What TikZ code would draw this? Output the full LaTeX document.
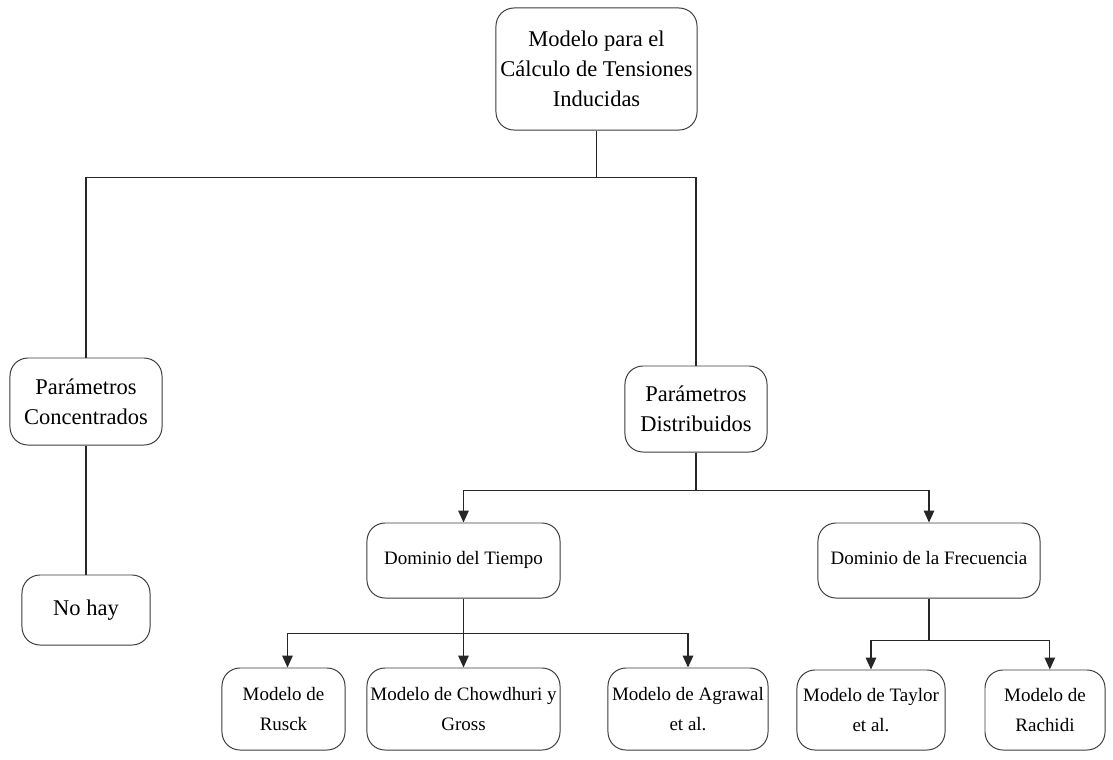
\documentclass[tikz,border=0pt]{standalone}
\usepackage{fontspec}
\setmainfont{Liberation Serif}
\usepackage{tikz}
\usetikzlibrary{arrows.meta, positioning, calc}
\definecolor{boxline}{RGB}{60, 60, 60}

\begin{document}
\begin{tikzpicture}[
  x=0.025cm, y=-0.025cm,
  box/.style={rectangle, rounded corners=0.45cm, draw=boxline, line width=0.7pt,
              align=center, inner sep=2pt},
  big/.style={font=\fontsize{16}{21.5}\selectfont},
  small/.style={font=\fontsize{13.5}{21.5}\selectfont},
  link/.style={line width=0.9pt, color=black!85},
  arrow/.style={link, -{Triangle[length=8.5pt, width=7.5pt]}},
]
\useasboundingbox (0,0) rectangle (1113,759);

% Root
\node[box, big, minimum width=5.025cm, minimum height=3.05cm] (root) at (596.5,69)
  {Modelo para el\\ C\'alculo de Tensiones\\ Inducidas};

% Level 1
\node[box, big, minimum width=3.8cm, minimum height=2.175cm] (conc) at (86,401.5)
  {Par\'ametros\\ Concentrados};
\node[box, big, minimum width=3.55cm, minimum height=2.15cm] (dist) at (696,409)
  {Par\'ametros\\ Distribuidos};

% Level 2
\node[box, big, minimum width=3.2cm, minimum height=1.75cm] (nohay) at (86,610)
  {No hay};
\node[box, small, minimum width=4.825cm, minimum height=1.875cm, text depth=0.15cm] (tiempo) at (463.5,560.5)
  {Dominio del Tiempo};
\node[box, small, minimum width=5.55cm, minimum height=1.875cm, text depth=0.15cm] (frec) at (929,560.5)
  {Dominio de la Frecuencia};

% Level 3
\node[box, small, minimum width=3.075cm, minimum height=2.05cm] (rusck) at (283.5,709)
  {Modelo de\\ Rusck};
\node[box, small, minimum width=4.825cm, minimum height=2.05cm] (chow) at (463.5,709)
  {Modelo de Chowdhuri y\\ Gross};
\node[box, small, minimum width=4.0cm, minimum height=2.05cm] (agra) at (688,709)
  {Modelo de Agrawal\\ et al.};
\node[box, small, minimum width=3.7cm, minimum height=2.0cm] (taylor) at (871,710)
  {Modelo de Taylor\\ et al.};
\node[box, small, minimum width=3.0cm, minimum height=2.0cm] (rach) at (1045,710)
  {Modelo de\\ Rachidi};

% Links from root
\draw[link] (root.south) -- ++(0,47) -| (conc.north);
\draw[link] (root.south) -- ++(0,47) -| (dist.north);
\draw[link] (conc.south) -- (nohay.north);

% Arrows to domains
\draw[arrow] (dist.south) -- ++(0,38) -| (tiempo.north);
\draw[arrow] (dist.south) -- ++(0,38) -| (frec.north);

% Arrows to models
\draw[arrow] (tiempo.south) -- ++(0,35) -| ([xshift=0.1cm]rusck.north);
\draw[arrow] (tiempo.south) -- (chow.north);
\draw[arrow] (tiempo.south) -- ++(0,35) -| (agra.north);
\draw[arrow] (frec.south) -- ++(0,42) -| (taylor.north);
\draw[arrow] (frec.south) -- ++(0,42) -| ([xshift=0.12cm]rach.north);

\end{tikzpicture}
\end{document}
